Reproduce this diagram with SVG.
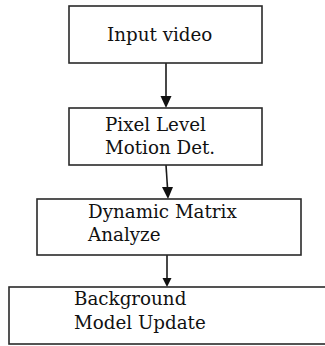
<svg xmlns="http://www.w3.org/2000/svg" width="325" height="346" viewBox="0 0 325 346">
<style>
.box{fill:#fff;stroke:#2a2a2a;stroke-width:1.6}
.lbl{font-family:"DejaVu Serif","Liberation Serif",serif;font-size:18.3px;fill:#111}
.edge{stroke:#1a1a1a;stroke-width:1.6;fill:none}
.head{fill:#111}
</style>
<rect width="325" height="346" fill="#fff"/>
<g id="connectors">
<line class="edge" x1="166" y1="63" x2="166" y2="98"/>
<polygon class="head" points="160.5,96 171.5,96 166,108"/>
<line class="edge" x1="166" y1="165" x2="167.5" y2="188"/>
<polygon class="head" points="162,187 173,187 168,199"/>
<line class="edge" x1="167" y1="255" x2="167" y2="279"/>
<polygon class="head" points="162.5,278 171.5,278 167,287"/>
</g>
<g id="n1">
<rect class="box" x="69" y="6" width="193" height="57"/>
<text class="lbl" x="107" y="40.5">Input video</text>
</g>
<g id="n2">
<rect class="box" x="69" y="108" width="193" height="57"/>
<text class="lbl" x="105" y="130.5">Pixel Level</text>
<text class="lbl" x="105" y="154">Motion Det.</text>
</g>
<g id="n3">
<rect class="box" x="37" y="199" width="264" height="56"/>
<text class="lbl" x="88" y="218">Dynamic Matrix</text>
<text class="lbl" x="88" y="240.5">Analyze</text>
</g>
<g id="n4">
<rect class="box" x="9" y="287" width="330" height="57"/>
<text class="lbl" x="74" y="305">Background</text>
<text class="lbl" x="74" y="329">Model Update</text>
</g>
</svg>
